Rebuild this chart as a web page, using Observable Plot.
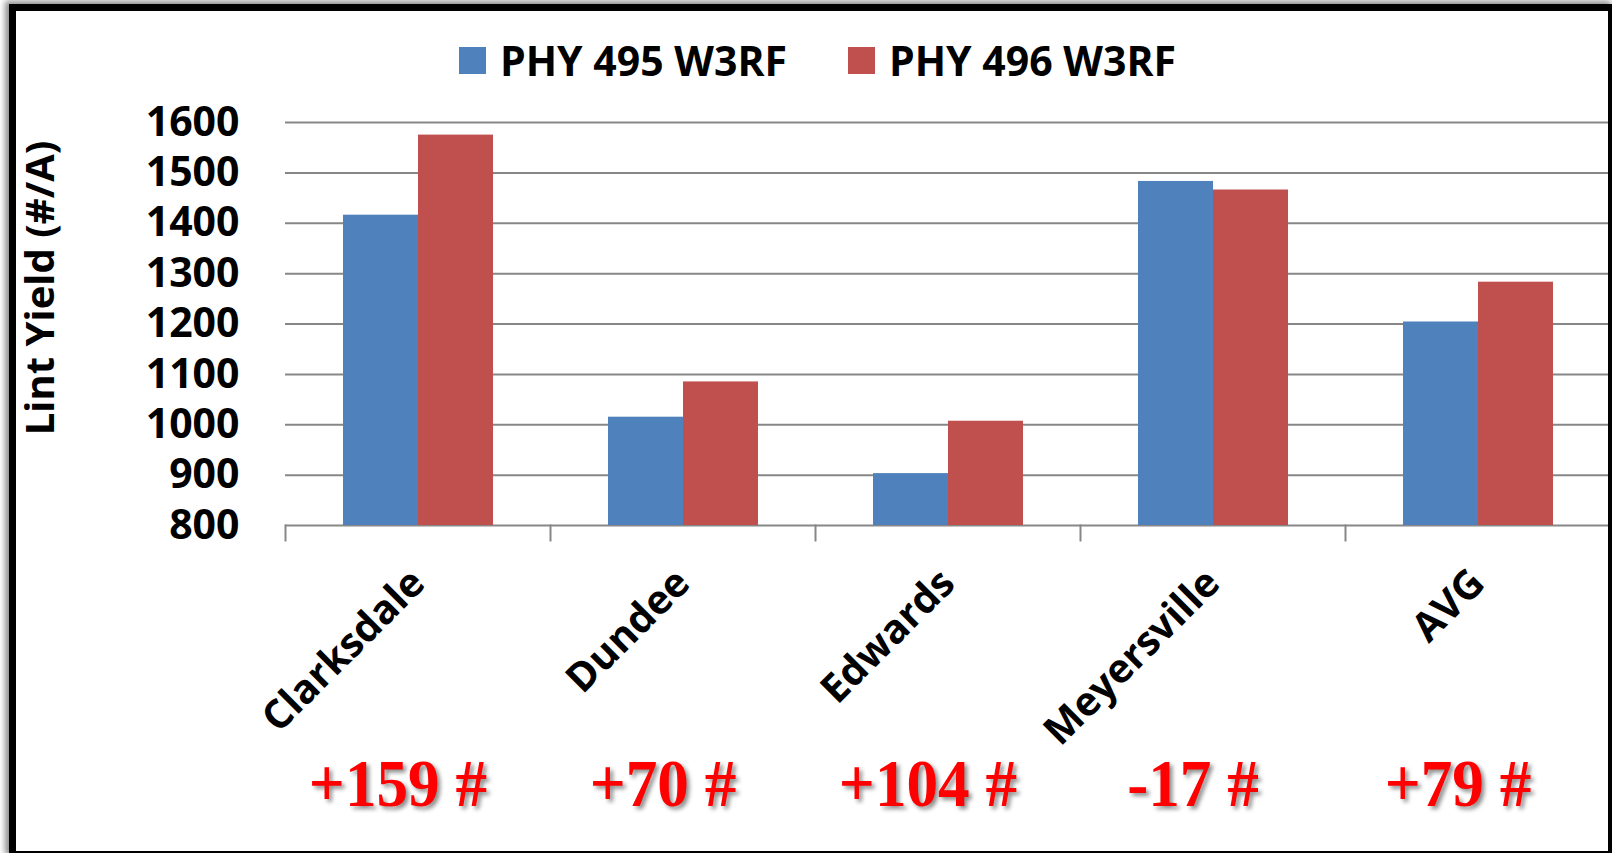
<!DOCTYPE html>
<html>
<head>
<meta charset="utf-8">
<script src="https://cdn.jsdelivr.net/npm/d3@7"></script>
<script src="https://cdn.jsdelivr.net/npm/@observablehq/plot@0.6"></script>
<style>
  html, body { margin: 0; padding: 0; background: #fff; }
  #wrap { position: relative; width: 1612px; height: 853px; overflow: hidden; background: #fff; }
  #frame { position: absolute; left: 9px; top: 4px; width: 1592px; height: 840px;
           border: 7px solid #000; box-shadow: -4px -3px 6px rgba(0,0,0,0.45);
           pointer-events: none; z-index: 2; }
  #chart { position: absolute; left: 0; top: 0; z-index: 1; }
  #legend { position: absolute; left: 459px; top: 40px; height: 41px; display: flex; align-items: center;
            font-family: "Open Sans", sans-serif; font-weight: 700; font-size: 41px; line-height: 41px;
            color: #000; z-index: 3; white-space: nowrap; }
  #legend .sw { width: 27px; height: 27px; margin-right: 14px; }
  #legend .lab { margin-right: 61px; }
</style>
</head>
<body>
<div id="wrap">
  <div id="chart"></div>
  <div id="legend"></div>
  <div id="frame"></div>
</div>
<script>
const sites = ["Clarksdale", "Dundee", "Edwards", "Meyersville", "AVG"];
const series = ["PHY 495 W3RF", "PHY 496 W3RF"];
const phy495 = [1416, 1015, 903, 1483, 1204];
const phy496 = [1575, 1085, 1007, 1466, 1283];
const diffLabels = ["+159 #", "+70 #", "+104 #", "-17 #", "+79 #"];
const yTicks = [800, 900, 1000, 1100, 1200, 1300, 1400, 1500, 1600];
const yLabel = "Lint Yield (#/A)";
const colors = ["#4F81BD", "#C0504D"];

const rows = sites.flatMap((s, i) => [
  {site: s, variety: series[0], value: phy495[i]},
  {site: s, variety: series[1], value: phy496[i]}
]);
const diffRows = sites.map((s, i) => ({site: s, label: diffLabels[i]}));

const chart = Plot.plot({
  width: 1612,
  height: 853,
  marginLeft: 283,
  marginRight: 0,
  marginTop: 122,
  marginBottom: 328,
  style: {fontFamily: "Open Sans, sans-serif", fontWeight: "bold", color: "#000", background: "transparent", overflow: "visible"},
  fx: {domain: sites, padding: 0, label: null, axis: null},
  x: {domain: series, paddingInner: 0, paddingOuter: 0.75, axis: null},
  y: {domain: [yTicks[0], yTicks[yTicks.length - 1]], axis: null},
  color: {domain: series, range: colors},
  marks: [
    Plot.gridY(yTicks, {stroke: "#878787", strokeOpacity: 1, strokeWidth: 2}),
    Plot.frame({anchor: "left", stroke: "#878787", strokeWidth: 2, insetTop: 403, insetBottom: -15}),
    Plot.barY(rows, {fx: "site", x: "variety", y1: yTicks[0], y2: "value", fill: "variety"}),
    Plot.axisY(yTicks, {tickSize: 0, tickPadding: 46, tickFormat: d => String(d), fontSize: 41, fontWeight: "bold", label: null}),
    Plot.axisFx({anchor: "bottom", tickRotate: -45, tickSize: 0, tickPadding: 51, fontSize: 40, fontWeight: "bold", label: null}),
    Plot.text([{site: sites[0], label: yLabel}], {fx: "site", text: "label", frameAnchor: "left", textAnchor: "middle", rotate: -90, dx: -244, dy: -36, fontSize: 40, fontWeight: "bold", fill: "#000"}),
    Plot.text(diffRows, {fx: "site", text: "label", frameAnchor: "bottom", dx: -20, dy: 280, fill: "red", fontSize: 68, fontWeight: "bold", fontFamily: "Liberation Serif, serif"})
  ]
});
document.getElementById("chart").appendChild(chart);
const red = d3.select(chart).selectAll('g[fill="red"]');
red.style("filter", "drop-shadow(3px 3px 2px rgba(0,0,0,0.45))");
red.selectAll("text").attr("transform", function () {
  return (this.getAttribute("transform") || "") + " scale(0.93,1)";
});

const legend = d3.select("#legend");
series.forEach((s, i) => {
  legend.append("span").attr("class", "sw").style("background", colors[i]);
  legend.append("span").attr("class", "lab").text(s);
});
</script>
</body>
</html>
